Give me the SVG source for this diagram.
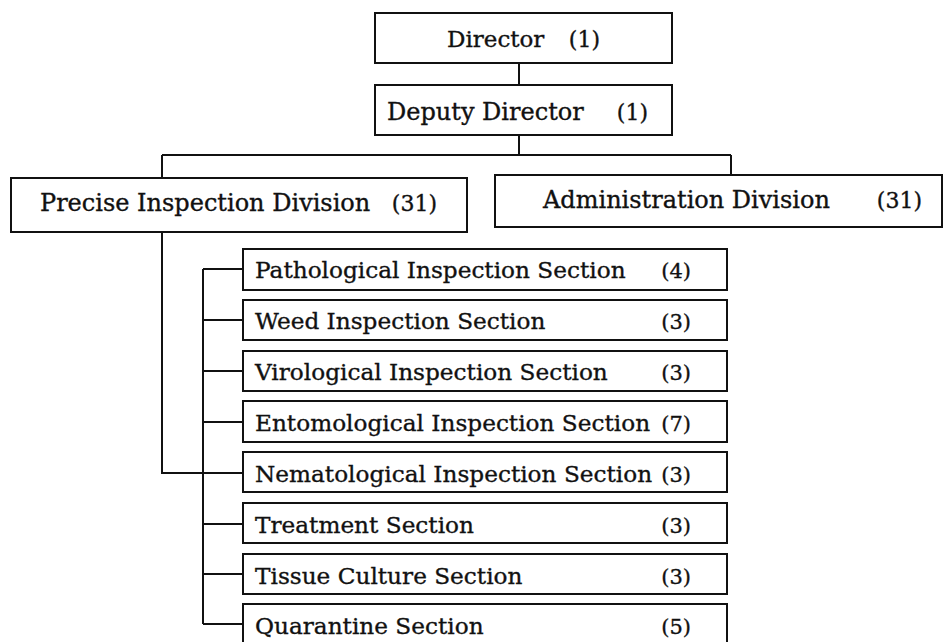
<svg xmlns="http://www.w3.org/2000/svg" width="945" height="642" viewBox="0 0 945 642">
<style>
.box{fill:#fff;stroke:#111;stroke-width:2}
.ln{fill:none;stroke:#111;stroke-width:2}
text{font-family:"DejaVu Serif","Liberation Serif",serif;fill:#111;stroke:#111;stroke-width:0.35;font-size:23.2px}
.t{font-size:24px}
.n{text-anchor:end;font-size:21px}
.t.n{font-size:22px}
</style>
<rect width="945" height="642" fill="#fff"/>
<g id="connectors">
<path class="ln" d="M519 63V85M519 135V155M162 155H731M162 155V178M731 155V175"/>
<path class="ln" d="M162 232V473H243"/>
<path class="ln" d="M203 269V624M203 269H243M203 320H243M203 371H243M203 422H243M203 524H243M203 574H243M203 624H243"/>
</g>
<g id="director"><rect class="box" x="375" y="13" width="297" height="50"/><text class="t" x="447" y="47" style="font-size:23px">Director</text><text class="t n" x="600" y="47">(1)</text></g>
<g id="deputy"><rect class="box" x="375" y="85" width="297" height="50"/><text class="t" x="387" y="120">Deputy Director</text><text class="t n" x="648" y="120">(1)</text></g>
<g id="precise"><rect class="box" x="11" y="178" width="456" height="54"/><text class="t" x="40" y="211">Precise Inspection Division</text><text class="t n" x="437" y="211">(31)</text></g>
<g id="admin"><rect class="box" x="495" y="175" width="447" height="52"/><text class="t" x="543" y="208">Administration Division</text><text class="t n" x="922" y="208">(31)</text></g>
<g id="s1"><rect class="box" x="243" y="249" width="484" height="41"/><text x="255" y="278">Pathological Inspection Section</text><text class="n" x="691" y="278">(4)</text></g>
<g id="s2"><rect class="box" x="243" y="300" width="484" height="40"/><text x="255" y="329">Weed Inspection Section</text><text class="n" x="691" y="329">(3)</text></g>
<g id="s3"><rect class="box" x="243" y="351" width="484" height="40"/><text x="255" y="380">Virological Inspection Section</text><text class="n" x="691" y="380">(3)</text></g>
<g id="s4"><rect class="box" x="243" y="401" width="484" height="41"/><text x="255" y="431">Entomological Inspection Section</text><text class="n" x="691" y="431">(7)</text></g>
<g id="s5"><rect class="box" x="243" y="452" width="484" height="40"/><text x="255" y="482">Nematological Inspection Section</text><text class="n" x="691" y="482">(3)</text></g>
<g id="s6"><rect class="box" x="243" y="503" width="484" height="40"/><text x="255" y="533">Treatment Section</text><text class="n" x="691" y="533">(3)</text></g>
<g id="s7"><rect class="box" x="243" y="554" width="484" height="40"/><text x="255" y="584">Tissue Culture Section</text><text class="n" x="691" y="584">(3)</text></g>
<g id="s8"><rect class="box" x="243" y="604" width="484" height="40"/><text x="255" y="634">Quarantine Section</text><text class="n" x="691" y="634">(5)</text></g>
</svg>
